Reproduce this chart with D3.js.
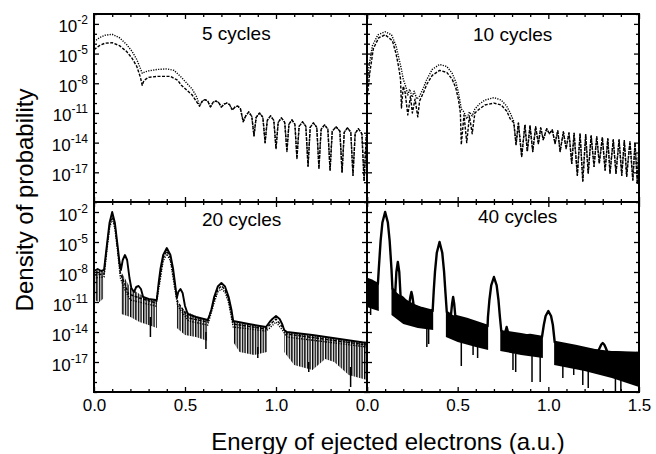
<!DOCTYPE html>
<html>
<head>
<meta charset="utf-8">
<script src="https://cdn.jsdelivr.net/npm/d3@7"></script>
<style>
  body { margin: 0; background: #fff; }
  svg { font-family: Arial, "Liberation Sans", Helvetica, sans-serif; }
</style>
</head>
<body>
<svg id="chart" width="656" height="454"></svg>
<script>
// all probabilities are stored as log10 values
// [energy (a.u.), log10 P]

// 5 cycles
const dotted5Head = [[0.00,-3.8],[0.03,-3.4],[0.06,-3.15],[0.10,-3.05],[0.14,-3.4],[0.18,-4.1],[0.21,-4.8],[0.235,-5.6],[0.255,-6.5],[0.265,-7.0],[0.28,-6.85],[0.30,-6.75],[0.35,-6.6],[0.40,-6.55],[0.44,-6.7],[0.48,-7.4],[0.51,-8.0],[0.54,-8.6],[0.565,-9.4]];
const dashed5Head = [[0.00,-4.6],[0.03,-4.2],[0.06,-3.95],[0.10,-3.9],[0.14,-4.2],[0.18,-4.8],[0.21,-5.5],[0.235,-6.3],[0.255,-7.4],[0.265,-8.2],[0.275,-7.7],[0.30,-7.4],[0.35,-7.3],[0.42,-7.3],[0.46,-7.7],[0.48,-8.2],[0.51,-8.7],[0.54,-9.2],[0.565,-9.9]];
const tail5 = [[0.58,-10.3],[0.595,-9.8],[0.61,-9.65],[0.625,-9.8],[0.64,-10.4],[0.655,-9.9],[0.67,-9.8],[0.685,-9.95],[0.70,-10.4],[0.715,-10.1],[0.73,-10.0],[0.745,-10.15],[0.76,-10.7],[0.775,-10.4],[0.79,-10.3],[0.805,-10.6],[0.82,-11.9],[0.832,-11.35],[0.85,-10.9],[0.867,-11.35],[0.879,-13.3],[0.891,-11.45],[0.91,-11.0],[0.928,-11.45],[0.94,-14.0],[0.952,-11.75],[0.97,-11.3],[0.988,-11.75],[1.0,-14.6],[1.012,-11.95],[1.03,-11.5],[1.048,-11.95],[1.06,-14.9],[1.071,-12.15],[1.088,-11.7],[1.104,-12.15],[1.115,-15.6],[1.127,-12.35],[1.146,-11.9],[1.164,-12.35],[1.176,-16.4],[1.188,-12.45],[1.206,-12.0],[1.224,-12.45],[1.236,-16.6],[1.248,-12.65],[1.267,-12.2],[1.285,-12.65],[1.297,-16.8],[1.309,-12.85],[1.33,-12.4],[1.351,-12.85],[1.363,-17.0],[1.375,-12.95],[1.393,-12.5],[1.411,-12.95],[1.423,-17.3],[1.435,-13.05],[1.453,-12.6],[1.472,-13.1],[1.484,-17.9],[1.496,-13.3],[1.5,-13.1]];

// 10 cycles
const dotted10Head = [[0.0,-8.5],[0.01,-6.4],[0.03,-4.2],[0.06,-3.1],[0.10,-2.8],[0.135,-3.1],[0.16,-4.2],[0.175,-5.4],[0.19,-6.6],[0.20,-7.6],[0.215,-8.4],[0.225,-9.2],[0.235,-8.6],[0.25,-9.4],[0.26,-8.8],[0.275,-9.6],[0.29,-9.3],[0.31,-8.5],[0.33,-7.6],[0.36,-6.6],[0.40,-6.1],[0.44,-6.3],[0.47,-7.0],[0.49,-7.9],[0.505,-9.0],[0.52,-10.6],[0.535,-10.9],[0.55,-11.6],[0.565,-10.9],[0.58,-11.3],[0.595,-10.6],[0.62,-10.1],[0.65,-9.7],[0.70,-9.45],[0.74,-9.7],[0.77,-10.3],[0.79,-11.0],[0.808,-11.8]];
const dashed10Head = [[0.0,-9.7],[0.015,-7.0],[0.035,-4.5],[0.065,-3.4],[0.10,-3.1],[0.14,-3.7],[0.16,-5.0],[0.175,-6.4],[0.185,-7.6],[0.19,-10.5],[0.20,-8.3],[0.21,-8.9],[0.225,-11.2],[0.24,-9.3],[0.25,-11.0],[0.265,-9.6],[0.28,-11.4],[0.29,-9.8],[0.31,-9.0],[0.33,-8.1],[0.36,-7.2],[0.40,-6.7],[0.44,-6.9],[0.47,-7.6],[0.49,-8.5],[0.505,-9.7],[0.515,-11.0],[0.52,-14.2],[0.535,-11.2],[0.55,-14.0],[0.565,-11.3],[0.58,-13.1],[0.595,-11.0],[0.62,-10.6],[0.65,-10.2],[0.70,-10.0],[0.74,-10.2],[0.77,-10.8],[0.79,-11.6],[0.81,-12.0]];
const tail10 = [[0.822,-14.2],[0.835,-12.0],[0.853,-15.4],[0.871,-12.2],[0.884,-14.9],[0.899,-12.3],[0.914,-14.9],[0.93,-12.4],[0.945,-14.1],[0.958,-12.5],[0.972,-13.7],[0.991,-12.6],[1.006,-13.1],[1.022,-12.7],[1.037,-14.1],[1.052,-12.8],[1.065,-14.9],[1.083,-12.9],[1.098,-14.6],[1.114,-13.0],[1.129,-16.1],[1.142,-13.05],[1.16,-17.3],[1.175,-13.1],[1.19,-17.9],[1.206,-13.2],[1.22,-17.1],[1.236,-13.3],[1.252,-16.4],[1.267,-13.4],[1.281,-16.1],[1.298,-13.45],[1.313,-16.8],[1.328,-13.6],[1.34,-17.1],[1.358,-13.7],[1.373,-17.1],[1.39,-13.7],[1.405,-17.3],[1.419,-13.8],[1.432,-17.4],[1.45,-13.9],[1.466,-17.8],[1.478,-14.0],[1.491,-18.1],[1.5,-14.1]];

// 20 cycles
const solid20 = [[0.0,-7.9],[0.02,-7.7],[0.04,-7.9],[0.055,-7.8],[0.06,-7.0],[0.07,-5.4],[0.085,-3.1],[0.1,-2.0],[0.115,-3.1],[0.13,-5.4],[0.14,-7.0],[0.148,-7.8],[0.158,-6.8],[0.17,-6.3],[0.182,-6.8],[0.195,-8.6],[0.205,-9.6],[0.22,-10.0],[0.232,-9.5],[0.245,-9.4],[0.258,-9.7],[0.27,-10.5],[0.3,-10.7],[0.34,-10.8],[0.345,-10.8],[0.355,-9.1],[0.365,-7.7],[0.38,-6.3],[0.40,-5.6],[0.42,-6.3],[0.435,-7.7],[0.445,-9.1],[0.455,-10.6],[0.463,-10.0],[0.475,-9.7],[0.487,-10.1],[0.5,-11.4],[0.515,-12.2],[0.56,-12.5],[0.625,-12.8],[0.635,-12.3],[0.645,-11.75],[0.66,-10.5],[0.68,-9.45],[0.70,-9.1],[0.72,-9.45],[0.74,-10.5],[0.755,-11.75],[0.765,-12.9],[0.85,-13.2],[0.945,-13.5],[0.955,-13.25],[0.965,-13.0],[0.98,-12.7],[1.0,-12.4],[1.02,-12.7],[1.035,-13.25],[1.045,-13.8],[1.06,-14.0],[1.2,-14.3],[1.35,-14.7],[1.5,-15.1]];
const dashed20 = [[0.0,-8.3],[0.055,-8.2],[0.07,-5.7],[0.085,-3.4],[0.1,-2.3],[0.115,-3.4],[0.13,-5.7],[0.145,-8.2],[0.165,-9.0],[0.19,-10.2],[0.25,-10.6],[0.34,-11.1],[0.355,-9.4],[0.38,-6.6],[0.40,-5.9],[0.42,-6.6],[0.445,-9.4],[0.46,-11.0],[0.52,-12.6],[0.625,-13.0],[0.66,-10.8],[0.68,-9.75],[0.70,-9.4],[0.72,-9.75],[0.74,-10.8],[0.765,-13.2],[0.945,-13.7],[0.965,-13.3],[1.0,-12.7],[1.035,-13.5],[1.06,-14.2],[1.5,-15.3]];
const dotted20 = [[0.0,-8.6],[0.055,-8.5],[0.07,-6.0],[0.085,-3.7],[0.1,-2.6],[0.115,-3.7],[0.13,-6.0],[0.145,-8.6],[0.17,-9.8],[0.2,-10.8],[0.34,-11.4],[0.355,-9.8],[0.38,-6.9],[0.40,-6.2],[0.42,-6.9],[0.445,-9.8],[0.46,-11.4],[0.52,-12.9],[0.625,-13.3],[0.66,-11.1],[0.68,-10.0],[0.70,-9.7],[0.72,-10.0],[0.74,-11.1],[0.765,-13.5],[0.945,-13.9],[0.965,-13.6],[1.0,-13.0],[1.035,-13.8],[1.06,-14.5],[1.5,-15.5]];
// dense fringe bands: [energy, upper log10 P, lower log10 P]
const band20 = [
  [[0.0,-7.9,-10.8],[0.03,-7.8,-11.0],[0.055,-8.0,-10.6]],
  [[0.15,-8.0,-12.2],[0.2,-9.6,-12.5],[0.25,-10.2,-13.0],[0.3,-10.7,-13.3],[0.345,-10.8,-13.6]],
  [[0.455,-11.0,-13.6],[0.5,-11.9,-14.3],[0.56,-12.4,-14.5],[0.625,-12.8,-14.9]],
  [[0.765,-12.9,-15.0],[0.8,-13.1,-16.0],[0.88,-13.3,-16.3],[0.95,-13.5,-16.0]],
  [[1.045,-13.9,-16.0],[1.1,-14.15,-17.3],[1.2,-14.3,-17.8],[1.27,-14.5,-16.7],[1.32,-14.6,-17.0],[1.4,-14.85,-18.3],[1.5,-15.1,-18.8]]
];
const spikes20 = [[0.31,-12.5,-14.5],[0.615,-14.0,-15.7],[0.9,-15.5,-16.6],[1.18,-17.0,-18.0],[1.41,-17.5,-19.5]];

// 40 cycles
const solid40 = [[0.0,-8.7],[0.03,-8.9],[0.06,-9.2],[0.065,-7.7],[0.075,-4.9],[0.085,-3.05],[0.1,-2.0],[0.115,-3.05],[0.125,-4.9],[0.135,-7.7],[0.14,-9.6],[0.155,-10.3],[0.162,-8.0],[0.17,-7.0],[0.178,-8.0],[0.185,-10.4],[0.2,-10.6],[0.233,-11.2],[0.24,-10.4],[0.245,-10.0],[0.25,-10.4],[0.257,-11.3],[0.3,-11.6],[0.362,-11.9],[0.368,-9.9],[0.375,-7.97],[0.385,-6.07],[0.40,-5.0],[0.415,-6.07],[0.425,-7.97],[0.432,-9.9],[0.44,-12.0],[0.463,-12.3],[0.469,-11.2],[0.475,-10.5],[0.481,-11.2],[0.487,-12.4],[0.55,-12.7],[0.665,-13.4],[0.667,-12.5],[0.675,-10.8],[0.685,-9.33],[0.70,-8.5],[0.715,-9.33],[0.725,-10.8],[0.733,-12.5],[0.74,-13.8],[0.758,-14.5],[0.764,-13.9],[0.77,-13.5],[0.776,-13.9],[0.782,-14.5],[0.9,-14.3],[0.965,-14.5],[0.975,-13.3],[0.985,-12.4],[1.0,-11.9],[1.015,-12.4],[1.025,-13.3],[1.035,-15.0],[1.15,-15.4],[1.275,-15.9],[1.283,-15.6],[1.292,-15.25],[1.30,-15.1],[1.308,-15.25],[1.317,-15.6],[1.325,-16.0],[1.5,-16.1]];
const band40 = [
  [[0.0,-8.7,-11.5],[0.03,-8.9,-11.7],[0.065,-9.2,-11.9]],
  [[0.135,-9.6,-12.3],[0.2,-10.6,-13.2],[0.28,-11.4,-13.6],[0.365,-11.9,-13.8]],
  [[0.435,-12.0,-14.5],[0.5,-12.5,-15.0],[0.6,-13.0,-15.5],[0.668,-13.4,-15.8]],
  [[0.735,-13.8,-15.9],[0.85,-14.1,-16.3],[0.97,-14.5,-16.6]],
  [[1.032,-15.0,-17.3],[1.2,-15.6,-17.9],[1.35,-15.9,-18.6],[1.5,-16.1,-19.5]]
];
const spikes40 = [[0.02,-11.5,-12.3],[0.33,-13.7,-15.5],[0.34,-13.7,-15.2],[0.52,-15.0,-17.4],[0.585,-15.4,-16.3],[0.61,-15.5,-16.6],[0.805,-16.1,-17.8],[0.82,-16.2,-18.0],[0.91,-16.4,-19.0],[0.955,-16.5,-19.0],[1.08,-17.4,-18.6],[1.14,-17.6,-18.3],[1.19,-17.8,-19.3],[1.22,-17.9,-19.6],[1.37,-18.6,-19.9],[1.40,-18.8,-19.9]];

const panelTitles = ["5 cycles", "10 cycles", "20 cycles", "40 cycles"];
const yLabelExps = [-2, -5, -8, -11, -14, -17];
const xLabelsLeft = [0, 0.5, 1.0];
const xLabelsRight = [0, 0.5, 1.0, 1.5];

const svg = d3.select("#chart");

const frame = { left: 94, mid: 367, right: 639, top: 14, midY: 202, bottom: 392 };

const xScales = [
    d3.scaleLinear().domain([0, 1.5]).range([frame.left, frame.mid]),
    d3.scaleLinear().domain([0, 1.5]).range([frame.mid, frame.right])
];
const yScales = [
    d3.scaleLog().domain([1e-20, 1e-1]).range([frame.midY, frame.top]),
    d3.scaleLog().domain([1e-20, 1e-1]).range([frame.bottom, frame.midY])
];

const styles = {
    dotted: { width: 1.4, dash: "1.2,1.3" },
    dashed: { width: 1.4, dash: "3,1.5" },
    solid: { width: 1.9, dash: null },
    heavy: { width: 2.4, dash: null }
};

const panels = [
    { col: 0, row: 0, title: panelTitles[0], tx: 108, ty: 26,
      lines: [{ data: dotted5Head.concat(tail5), style: "dotted" }, { data: dashed5Head.concat(tail5), style: "dashed" }] },
    { col: 1, row: 0, title: panelTitles[1], tx: 106, ty: 27,
      lines: [{ data: dotted10Head.concat(tail10), style: "dotted" }, { data: dashed10Head.concat(tail10), style: "dashed" }] },
    { col: 0, row: 1, title: panelTitles[2], tx: 108, ty: 24, band: band20, bandFill: "url(#stripes)", spikes: spikes20,
      lines: [{ data: dotted20, style: "dotted" }, { data: dashed20, style: "dashed" }, { data: solid20, style: "solid" }] },
    { col: 1, row: 1, title: panelTitles[3], tx: 111, ty: 21, band: band40, bandFill: "#000", spikes: spikes40,
      lines: [{ data: solid40, style: "heavy" }] }
];

const defs = svg.append("defs");
const stripes = defs.append("pattern")
    .attr("id", "stripes")
    .attr("patternUnits", "userSpaceOnUse")
    .attr("width", 2.6)
    .attr("height", 10);
stripes.append("rect").attr("width", 1.4).attr("height", 10).attr("fill", "#000");

panels.forEach((p, i) => {
    const x = xScales[p.col];
    const y = yScales[p.row];
    const [x0, x1] = x.range();
    const [y1, y0] = y.range();

    defs.append("clipPath").attr("id", `clip-${i}`)
        .append("rect").attr("x", x0).attr("y", y0).attr("width", x1 - x0).attr("height", y1 - y0);

    const g = svg.append("g").attr("clip-path", `url(#clip-${i})`);

    const line = d3.line().x(d => x(d[0])).y(d => y(Math.pow(10, d[1])));
    const area = d3.area().x(d => x(d[0])).y0(d => y(Math.pow(10, d[2]))).y1(d => y(Math.pow(10, d[1])));

    if (p.band) {
        g.selectAll(".band")
            .data(p.band)
            .join("path")
            .attr("class", "band")
            .attr("d", area)
            .attr("fill", p.bandFill);
    }

    if (p.spikes) {
        g.selectAll(".spike")
            .data(p.spikes)
            .join("line")
            .attr("class", "spike")
            .attr("x1", d => x(d[0]))
            .attr("x2", d => x(d[0]))
            .attr("y1", d => y(Math.pow(10, d[1])))
            .attr("y2", d => y(Math.pow(10, d[2])))
            .attr("stroke", "#000")
            .attr("stroke-width", 1.5);
    }

    g.selectAll(".curve")
        .data(p.lines)
        .join("path")
        .attr("class", "curve")
        .attr("d", d => line(d.data))
        .attr("fill", "none")
        .attr("stroke", "#000")
        .attr("stroke-width", d => styles[d.style].width)
        .attr("stroke-dasharray", d => styles[d.style].dash)
        .attr("stroke-linejoin", "round");

    // ticks, all pointing into the panel
    const decades = d3.range(-20, 0).map(e => Math.pow(10, e));
    const isMajorY = v => yLabelExps.includes(Math.round(Math.log10(v)));
    const tenths = d3.range(0, 16).map(k => k / 10);
    const isMajorX = v => Math.round(v * 10) % 5 === 0;

    const tickAxis = (axis, tx, ty, isMajor, attr) => {
        const a = svg.append("g")
            .attr("transform", `translate(${tx},${ty})`)
            .call(axis.tickSize(-3).tickFormat(""));
        a.select(".domain").remove();
        a.selectAll(".tick line")
            .attr("stroke-width", 1.3)
            .attr(attr, function(d) { return isMajor(d) ? +d3.select(this).attr(attr) * 5 / 3 : d3.select(this).attr(attr); });
    };

    tickAxis(d3.axisLeft(y).tickValues(decades), x0, 0, isMajorY, "x2");
    tickAxis(d3.axisRight(y).tickValues(decades), x1, 0, isMajorY, "x2");
    tickAxis(d3.axisTop(x).tickValues(tenths), 0, y0, isMajorX, "y2");
    tickAxis(d3.axisBottom(x).tickValues(tenths), 0, y1, isMajorX, "y2");

    // y labels with superscript exponent
    if (p.col === 0) {
        const ya = svg.append("g")
            .attr("transform", `translate(${x0},0)`)
            .call(d3.axisLeft(y).tickValues(yLabelExps.map(e => Math.pow(10, e))).tickSize(0).tickPadding(6).tickFormat(""));
        ya.select(".domain").remove();
        ya.attr("font-size", 17).attr("font-family", null);
        ya.selectAll(".tick text")
            .attr("dy", 8)
            .attr("fill", "#000")
            .each(function(d) {
                const t = d3.select(this);
                t.append("tspan").text("10");
                t.append("tspan").attr("dy", -8).attr("font-size", 12).text(Math.round(Math.log10(d)));
            });
    }

    // x labels
    if (p.row === 1) {
        const xa = svg.append("g")
            .attr("transform", `translate(0,${y1})`)
            .call(d3.axisBottom(x).tickValues(p.col === 0 ? xLabelsLeft : xLabelsRight).tickSize(0).tickPadding(7).tickFormat(d3.format(".1f")));
        xa.select(".domain").remove();
        xa.attr("font-size", 17).attr("font-family", null);
        xa.selectAll(".tick text").attr("fill", "#000");
    }

    svg.append("text")
        .attr("x", x0 + p.tx)
        .attr("y", y0 + p.ty)
        .attr("font-size", 19)
        .text(p.title);
});

// frame and dividers
svg.append("rect")
    .attr("x", frame.left).attr("y", frame.top)
    .attr("width", frame.right - frame.left).attr("height", frame.bottom - frame.top)
    .attr("fill", "none").attr("stroke", "#000").attr("stroke-width", 2);
svg.append("line")
    .attr("x1", frame.mid).attr("x2", frame.mid).attr("y1", frame.top).attr("y2", frame.bottom)
    .attr("stroke", "#000").attr("stroke-width", 2);
svg.append("line")
    .attr("x1", frame.left).attr("x2", frame.right).attr("y1", frame.midY).attr("y2", frame.midY)
    .attr("stroke", "#000").attr("stroke-width", 2);

// axis titles
svg.append("text")
    .attr("transform", `translate(33,200) rotate(-90)`)
    .attr("text-anchor", "middle")
    .attr("font-size", 24)
    .text("Density of probability");
svg.append("text")
    .attr("x", 388).attr("y", 450)
    .attr("text-anchor", "middle")
    .attr("font-size", 24)
    .text("Energy of ejected electrons (a.u.)");
</script>
</body>
</html>
